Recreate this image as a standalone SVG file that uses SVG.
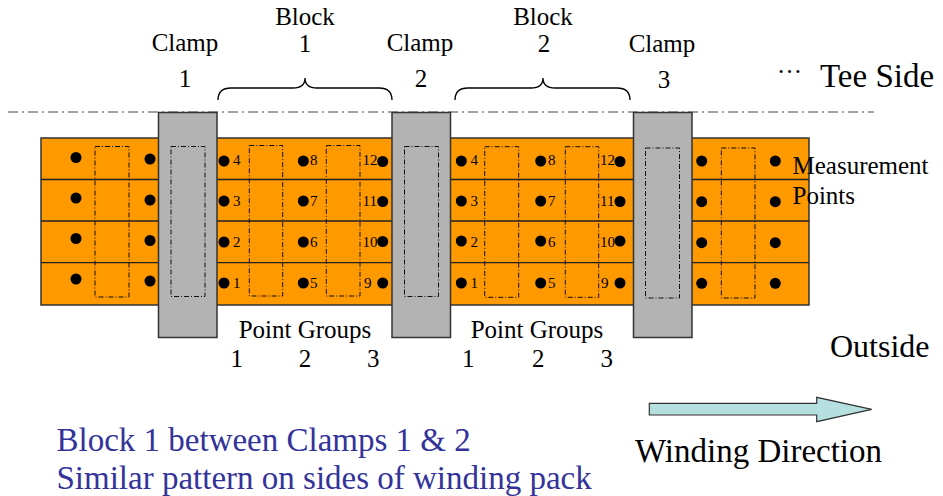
<svg xmlns="http://www.w3.org/2000/svg" width="943" height="496" viewBox="0 0 943 496" font-family="'Liberation Serif', 'DejaVu Serif', serif">
<style>
  text { font-family: 'Liberation Serif', 'Times New Roman', serif; fill: #000; }
  .lbl { font-size: 25px; text-anchor: middle; }
  .big { font-size: 33px; }
  .num { font-size: 15px; }
  .blue { fill: #333399; font-size: 33px; }
  .orange { fill: #FF9900; stroke: #333; stroke-width: 1.5; }
  .row { stroke: #222; stroke-width: 1.3; fill: none; }
  .clamp { fill: #B3B3B3; stroke: #333; stroke-width: 1.5; }
  .dd { fill: none; stroke: #111; stroke-width: 1; stroke-dasharray: 5 2 1 2; }
  .brace { fill: none; stroke: #000; stroke-width: 1.3; }
  .dot { fill: #000; }
</style>

<g id="axis-line">
  <line x1="8" y1="112" x2="874" y2="112" stroke="#444" stroke-width="1" stroke-dasharray="10 4 2 4"/>
</g>

<g id="winding-pack">
  <rect class="orange" x="41" y="138" width="768" height="167"/>
  <line class="row" x1="41" y1="179.5" x2="809" y2="179.5"/>
  <line class="row" x1="41" y1="221" x2="809" y2="221"/>
  <line class="row" x1="41" y1="262.7" x2="809" y2="262.7"/>
</g>

<g id="clamp-1">
  <rect class="clamp" x="158.5" y="112.5" width="58.5" height="225"/>
  <rect class="dd" x="171" y="146.5" width="34" height="150"/>
</g>
<g id="clamp-2">
  <rect class="clamp" x="392" y="112.5" width="58.5" height="225"/>
  <rect class="dd" x="404.5" y="146.5" width="34" height="150"/>
</g>
<g id="clamp-3">
  <rect class="clamp" x="633.5" y="112.5" width="58.5" height="225"/>
  <rect class="dd" x="645.5" y="148" width="34" height="150"/>
</g>

<g id="left-section">
  <rect class="dd" x="95" y="146.5" width="34" height="150.5"/>
  <circle class="dot" cx="76" cy="157.5" r="5.5"/>
  <circle class="dot" cx="76" cy="198" r="5.5"/>
  <circle class="dot" cx="76" cy="238.5" r="5.5"/>
  <circle class="dot" cx="76" cy="279" r="5.5"/>
  <circle class="dot" cx="150" cy="159" r="5.5"/>
  <circle class="dot" cx="150" cy="200" r="5.5"/>
  <circle class="dot" cx="150" cy="240.5" r="5.5"/>
  <circle class="dot" cx="150" cy="281" r="5.5"/>
</g>

<g id="block-1">
  <rect class="dd" x="249.3" y="145.5" width="33.4" height="150.5"/>
  <rect class="dd" x="326.3" y="145.5" width="33.7" height="150.5"/>
  <circle class="dot" cx="224" cy="161" r="5.5"/>
  <circle class="dot" cx="224" cy="201" r="5.5"/>
  <circle class="dot" cx="224" cy="242" r="5.5"/>
  <circle class="dot" cx="224" cy="283" r="5.5"/>
  <circle class="dot" cx="303.3" cy="161" r="5.5"/>
  <circle class="dot" cx="303.3" cy="201" r="5.5"/>
  <circle class="dot" cx="303.3" cy="242" r="5.5"/>
  <circle class="dot" cx="303.3" cy="283" r="5.5"/>
  <circle class="dot" cx="382.7" cy="161.5" r="5.5"/>
  <circle class="dot" cx="382.7" cy="201.5" r="5.5"/>
  <circle class="dot" cx="382.7" cy="241.5" r="5.5"/>
  <circle class="dot" cx="382.7" cy="283" r="5.5"/>
  <text class="num" x="233" y="164.5">4</text>
  <text class="num" x="233" y="206">3</text>
  <text class="num" x="233" y="247.3">2</text>
  <text class="num" x="233" y="288">1</text>
  <text class="num" x="310" y="164.5">8</text>
  <text class="num" x="310" y="206">7</text>
  <text class="num" x="310" y="247.3">6</text>
  <text class="num" x="310" y="288">5</text>
  <text class="num" x="362.5" y="164.5">12</text>
  <text class="num" x="362.5" y="206">11</text>
  <text class="num" x="362.5" y="247.3">10</text>
  <text class="num" x="364" y="288">9</text>
</g>

<g id="block-2">
  <rect class="dd" x="484.7" y="146.7" width="34" height="150.6"/>
  <rect class="dd" x="565.3" y="146.7" width="33.4" height="150.6"/>
  <circle class="dot" cx="461.3" cy="161" r="5.5"/>
  <circle class="dot" cx="461.3" cy="201" r="5.5"/>
  <circle class="dot" cx="461.3" cy="241" r="5.5"/>
  <circle class="dot" cx="461.3" cy="283" r="5.5"/>
  <circle class="dot" cx="540.7" cy="161" r="5.5"/>
  <circle class="dot" cx="540.7" cy="201" r="5.5"/>
  <circle class="dot" cx="540.7" cy="241" r="5.5"/>
  <circle class="dot" cx="540.7" cy="283" r="5.5"/>
  <circle class="dot" cx="620" cy="161.5" r="5.5"/>
  <circle class="dot" cx="620" cy="201.5" r="5.5"/>
  <circle class="dot" cx="620" cy="241" r="5.5"/>
  <circle class="dot" cx="620" cy="283" r="5.5"/>
  <text class="num" x="470.5" y="164.5">4</text>
  <text class="num" x="470.5" y="206">3</text>
  <text class="num" x="470.5" y="247.3">2</text>
  <text class="num" x="470.5" y="288">1</text>
  <text class="num" x="548" y="164.5">8</text>
  <text class="num" x="548" y="206">7</text>
  <text class="num" x="548" y="247.3">6</text>
  <text class="num" x="548" y="288">5</text>
  <text class="num" x="600" y="164.5">12</text>
  <text class="num" x="600" y="206">11</text>
  <text class="num" x="600" y="247.3">10</text>
  <text class="num" x="601" y="288">9</text>
</g>

<g id="right-section">
  <rect class="dd" x="721.3" y="148" width="33.7" height="150"/>
  <circle class="dot" cx="701.7" cy="161" r="5.5"/>
  <circle class="dot" cx="701.7" cy="201.7" r="5.5"/>
  <circle class="dot" cx="701.7" cy="242.7" r="5.5"/>
  <circle class="dot" cx="701.7" cy="283.3" r="5.5"/>
  <circle class="dot" cx="775.3" cy="161" r="5.5"/>
  <circle class="dot" cx="775.3" cy="201.7" r="5.5"/>
  <circle class="dot" cx="775.3" cy="242.7" r="5.5"/>
  <circle class="dot" cx="775.3" cy="283.3" r="5.5"/>
</g>

<g id="braces">
  <path class="brace" d="M218,100 Q218,88 231,88 L293,88 Q305,88 305,78 Q305,88 317,88 L379,88 Q392,88 392,100"/>
  <path class="brace" d="M455,100 Q455,88 468,88 L531,88 Q543,88 543,78 Q543,88 555,88 L617,88 Q630,88 630,100"/>
</g>

<g id="top-labels">
  <text class="lbl" x="185" y="51">Clamp</text>
  <text class="lbl" x="185" y="87">1</text>
  <text class="lbl" x="305" y="25">Block</text>
  <text class="lbl" x="305" y="52">1</text>
  <text class="lbl" x="420" y="51">Clamp</text>
  <text class="lbl" x="421" y="87">2</text>
  <text class="lbl" x="543" y="25">Block</text>
  <text class="lbl" x="544" y="52">2</text>
  <text class="lbl" x="662" y="52">Clamp</text>
  <text class="lbl" x="664" y="88">3</text>
  <text x="777" y="73" font-size="25">…</text>
  <text class="big" x="820" y="87">Tee Side</text>
</g>

<g id="measurement-label">
  <text x="792.5" y="174" font-size="25">Measurement</text>
  <text x="792.5" y="203.5" font-size="25">Points</text>
</g>

<g id="point-groups">
  <text class="lbl" x="305" y="338">Point Groups</text>
  <text class="lbl" x="236.7" y="366.5">1</text>
  <text class="lbl" x="305" y="366.5">2</text>
  <text class="lbl" x="373.3" y="366.5">3</text>
  <text class="lbl" x="537" y="338">Point Groups</text>
  <text class="lbl" x="468.3" y="366.5">1</text>
  <text class="lbl" x="538.3" y="366.5">2</text>
  <text class="lbl" x="606.7" y="366.5">3</text>
</g>

<g id="outside-label">
  <text x="830" y="357" font-size="32">Outside</text>
</g>

<g id="winding-direction">
  <polygon points="649.3,403.3 816.7,403.3 816.7,397.3 871.7,409.3 816.7,421.7 816.7,415 649.3,415" fill="#B6DFE0" stroke="#333" stroke-width="1.2"/>
  <text class="big" x="635" y="462">Winding Direction</text>
</g>

<g id="notes">
  <text class="blue" x="56.5" y="451">Block 1 between Clamps 1 &amp; 2</text>
  <text class="blue" x="56.5" y="489">Similar pattern on sides of winding pack</text>
</g>
</svg>
